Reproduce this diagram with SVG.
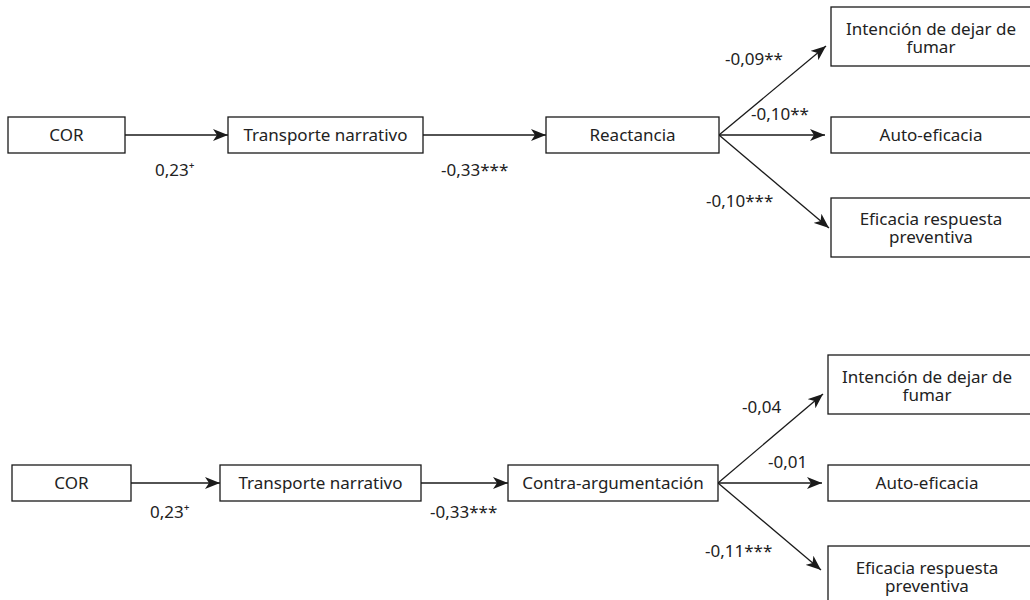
<svg xmlns="http://www.w3.org/2000/svg" width="1030" height="600" viewBox="0 0 1030 600">
<style>
.box{fill:#fff;stroke:#1a1a1a;stroke-width:1.3}
.t{font-family:"Noto Sans","Open Sans",sans-serif;font-size:17px;fill:#222}
.c{text-anchor:middle}
.e{stroke:#1a1a1a;stroke-width:1.3;fill:none;marker-end:url(#ah)}
</style>
<defs>
<marker id="ah" markerUnits="userSpaceOnUse" markerWidth="16" markerHeight="12" refX="15" refY="6" orient="auto">
<path d="M0,0 L15,6 L0,12 L4,6 Z" fill="#1a1a1a"/>
</marker>
</defs>
<rect width="1030" height="600" fill="#fff"/>
<g id="connectors">
<line class="e" x1="125" y1="135" x2="228" y2="135"/>
<line class="e" x1="423" y1="135" x2="546" y2="135"/>
<line class="e" x1="719" y1="135" x2="826" y2="46"/>
<line class="e" x1="719" y1="135" x2="825" y2="135"/>
<line class="e" x1="719" y1="135" x2="829" y2="228"/>
<line class="e" x1="131" y1="483" x2="220" y2="483"/>
<line class="e" x1="421" y1="483" x2="508" y2="483"/>
<line class="e" x1="718" y1="483" x2="823" y2="394"/>
<line class="e" x1="718" y1="483" x2="822" y2="483"/>
<line class="e" x1="718" y1="483" x2="821" y2="570"/>
<text class="t" x="155" y="176">0,23⁺</text>
<text class="t" x="441" y="176">-0,33***</text>
<text class="t" x="725" y="65">-0,09**</text>
<text class="t" x="751" y="120">-0,10**</text>
<text class="t" x="706" y="207">-0,10***</text>
<text class="t" x="150" y="518">0,23⁺</text>
<text class="t" x="430" y="518">-0,33***</text>
<text class="t" x="742" y="413">-0,04</text>
<text class="t" x="768" y="468">-0,01</text>
<text class="t" x="705" y="557">-0,11***</text>
</g>
<g id="cor1"><rect class="box" x="8" y="117" width="117" height="36"/><text class="t c" x="66.5" y="141">COR</text></g>
<g id="tn1"><rect class="box" x="228" y="117" width="195" height="36"/><text class="t c" x="325.5" y="141">Transporte narrativo</text></g>
<g id="reac"><rect class="box" x="546" y="117" width="173" height="36"/><text class="t c" x="632.5" y="141">Reactancia</text></g>
<g id="int1"><rect class="box" x="831" y="7" width="220" height="59"/><text class="t c" x="931" y="35">Intención de dejar de</text><text class="t c" x="931" y="53">fumar</text></g>
<g id="auto1"><rect class="box" x="831" y="117" width="220" height="36"/><text class="t c" x="931" y="141">Auto-eficacia</text></g>
<g id="efi1"><rect class="box" x="831" y="198" width="220" height="59"/><text class="t c" x="931" y="225">Eficacia respuesta</text><text class="t c" x="931" y="243">preventiva</text></g>
<g id="cor2"><rect class="box" x="12" y="465" width="119" height="36"/><text class="t c" x="71.5" y="489">COR</text></g>
<g id="tn2"><rect class="box" x="220" y="465" width="201" height="36"/><text class="t c" x="320.5" y="489">Transporte narrativo</text></g>
<g id="contra"><rect class="box" x="508" y="465" width="210" height="36"/><text class="t c" x="613" y="489">Contra-argumentación</text></g>
<g id="int2"><rect class="box" x="828" y="355" width="220" height="59"/><text class="t c" x="927" y="383">Intención de dejar de</text><text class="t c" x="927" y="401">fumar</text></g>
<g id="auto2"><rect class="box" x="828" y="465" width="220" height="36"/><text class="t c" x="927" y="489">Auto-eficacia</text></g>
<g id="efi2"><rect class="box" x="828" y="546" width="220" height="70"/><text class="t c" x="927" y="574">Eficacia respuesta</text><text class="t c" x="927" y="592">preventiva</text></g>
</svg>
